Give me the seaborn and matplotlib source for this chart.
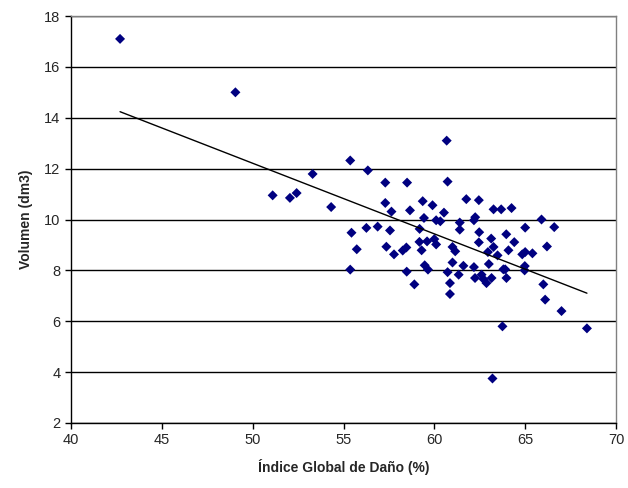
import matplotlib
matplotlib.use("Agg")
import matplotlib.pyplot as plt
import seaborn as sns
import pandas as pd

indice = [42.7, 49.05, 51.1, 52.05, 52.42, 53.3, 54.32, 55.37, 55.44, 55.73,
          55.37, 56.34, 56.26, 56.88, 57.3, 57.3, 57.64, 57.56, 57.36, 57.78,
          58.26, 58.46, 58.48, 58.9, 58.5, 58.66, 59.36, 59.43, 59.19, 59.18,
          59.3, 59.47, 59.65, 59.9, 60.1, 60.33, 60.53, 60.1, 59.6, 60.0,
          60.68, 60.73, 61.0, 61.15, 61.0, 60.73, 61.34, 60.86, 60.86, 61.6,
          61.4, 61.4, 61.76, 62.25, 62.18, 62.45, 62.47, 62.45, 62.18, 62.24,
          62.6, 62.7, 62.87, 63.15, 63.26, 62.95, 63.48, 63.13, 63.26, 63.68,
          64.25, 63.96, 64.08, 64.4, 63.8, 63.9, 63.97, 64.84, 65.0, 64.98,
          64.97, 65.0, 65.4, 63.75, 63.2, 65.9, 66.6, 66.2, 66.0, 66.1,
          67.0, 68.4, 63.0]
volumen = [17.1, 15.0, 10.95, 10.85, 11.04, 11.79, 10.49, 12.32, 9.48, 8.83,
           8.03, 11.93, 9.67, 9.72, 11.45, 10.65, 10.31, 9.57, 8.93, 8.63,
           8.78, 8.9, 7.95, 7.45, 11.45, 10.36, 10.72, 10.06, 9.63, 9.12,
           8.79, 8.2, 8.03, 10.56, 9.97, 9.93, 10.27, 9.02, 9.14, 9.23,
           13.1, 11.49, 8.92, 8.75, 8.31, 7.93, 7.83, 7.5, 7.07, 8.18,
           9.88, 9.6, 10.8, 10.09, 9.97, 10.76, 9.5, 9.1, 8.13, 7.7,
           7.83, 7.66, 7.5, 7.7, 8.92, 8.72, 8.59, 9.25, 10.4, 10.4,
           10.45, 9.42, 8.79, 9.11, 8.04, 8.04, 7.7, 8.63, 8.72, 8.17,
           8.0, 9.68, 8.67, 5.8, 3.75, 10.0, 9.7, 8.94, 7.45, 6.85,
           6.4, 5.72, 8.25]

df = pd.DataFrame({"x": indice, "y": volumen})

sns.set_style("white")
plt.rcParams["font.family"] = ["Liberation Sans", "DejaVu Sans"]

fig = plt.figure(figsize=(6.28, 4.88), dpi=100)
ax = fig.add_axes([71/628, 1-423/488, (616-71)/628, (423-16)/488])

sns.regplot(data=df, x="x", y="y", ax=ax, ci=None, marker="D",
            scatter_kws={"s": 26, "color": "#000080", "alpha": 1.0,
                         "edgecolors": "none", "zorder": 3},
            line_kws={"color": "black", "linewidth": 1.0, "zorder": 4})

ax.set_xlim(40, 70)
ax.set_ylim(2, 18)
ax.set_xticks(range(40, 71, 5))
ax.set_yticks(range(2, 19, 2))
ax.yaxis.grid(True, color="black", linewidth=1.0)
ax.set_axisbelow(True)
for s in ["left", "bottom"]:
    ax.spines[s].set_color("black")
    ax.spines[s].set_linewidth(1.0)
for s in ["top", "right"]:
    ax.spines[s].set_color("#808080")
    ax.spines[s].set_linewidth(1.0)
ax.tick_params(axis="both", direction="out", length=4, width=1, color="black",
               labelsize=10.5, left=True, bottom=True)
ax.set_xlabel("Índice Global de Daño (%)", fontsize=10, fontweight="bold", labelpad=8)
ax.set_ylabel("Volumen (dm3)", fontsize=10, fontweight="bold", labelpad=8)

fig.savefig("out.png", dpi=100, facecolor="white")
